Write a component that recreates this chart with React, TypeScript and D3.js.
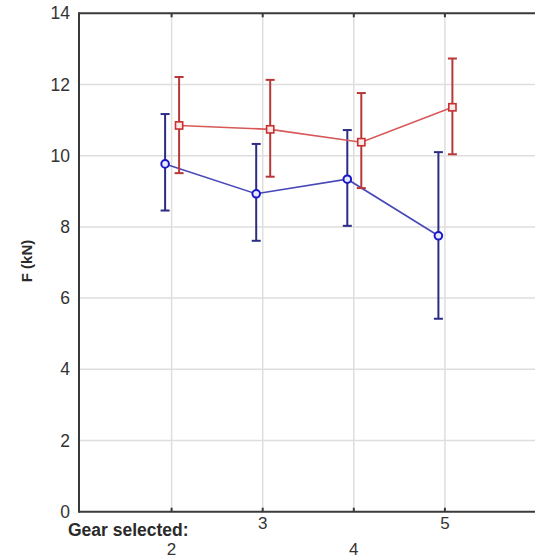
import React from "react";
import * as d3 from "d3";

const gears = [2, 3, 4, 5];
const blueMean = [9.77, 8.93, 9.34, 7.75];
const blueUpper = [11.17, 10.33, 10.72, 10.1];
const blueLower = [8.46, 7.61, 8.03, 5.42];
const redMean = [10.85, 10.74, 10.38, 11.36];
const redUpper = [12.21, 12.13, 11.76, 12.73];
const redLower = [9.51, 9.41, 9.09, 10.04];
const yTicks = [0, 2, 4, 6, 8, 10, 12, 14];
const xLabelsTop = [3, 5];
const xLabelsBottom = [2, 4];

const W = 535;
const H = 558;
const left = 79;
const top = 13.3;
const bottom = 511.7;
const right = 540;

const x = d3.scaleLinear().domain([1, 6]).range([80.5, 536]);
const y = d3.scaleLinear().domain([0, 14]).range([bottom, top]);

type Series = {
  mean: number[];
  upper: number[];
  lower: number[];
  offset: number;
  lineColor: string;
  barColor: string;
  markerColor: string;
  marker: "circle" | "square";
};

const series: Series[] = [
  {
    mean: blueMean,
    upper: blueUpper,
    lower: blueLower,
    offset: -6.5,
    lineColor: "#4848b8",
    barColor: "#2c2c84",
    markerColor: "#1818c8",
    marker: "circle",
  },
  {
    mean: redMean,
    upper: redUpper,
    lower: redLower,
    offset: 7.5,
    lineColor: "#d85858",
    barColor: "#b83838",
    markerColor: "#c83030",
    marker: "square",
  },
];

export default function App() {
  const font = "Arial, 'Liberation Sans', sans-serif";
  return (
    <svg
      width={W}
      height={H}
      style={{ position: "absolute", left: 0, top: 0, background: "#fff" }}
    >
      <rect x={0} y={0} width={W} height={H} fill="#fff" />
      {yTicks
        .filter((t) => t > 0 && t < 14)
        .map((t) => (
          <line
            key={"gy" + t}
            x1={left}
            x2={right}
            y1={y(t)}
            y2={y(t)}
            stroke="#dedede"
            strokeWidth={1.5}
          />
        ))}
      {gears.map((g) => (
        <line
          key={"gx" + g}
          x1={x(g)}
          x2={x(g)}
          y1={top}
          y2={bottom}
          stroke="#dedede"
          strokeWidth={1.5}
        />
      ))}
      <line x1={left} x2={right} y1={top} y2={top} stroke="#3a3a3a" strokeWidth={2} />
      <line x1={left} x2={right} y1={bottom} y2={bottom} stroke="#3a3a3a" strokeWidth={2} />
      <line x1={left} x2={left} y1={top - 1} y2={bottom + 1} stroke="#3a3a3a" strokeWidth={2} />
      {gears.map((g) => (
        <g key={"tk" + g}>
          <line x1={x(g)} x2={x(g)} y1={top} y2={top + 4} stroke="#3a3a3a" strokeWidth={2} />
          <line x1={x(g)} x2={x(g)} y1={bottom} y2={bottom - 4} stroke="#3a3a3a" strokeWidth={2} />
        </g>
      ))}
      {yTicks.map((t) => (
        <text
          key={"yl" + t}
          x={70}
          y={y(t)}
          textAnchor="end"
          dominantBaseline="central"
          fontFamily={font}
          fontSize={17.5}
          fill="#333"
        >
          {t}
        </text>
      ))}
      <text
        x={68}
        y={530}
        dominantBaseline="central"
        fontFamily={font}
        fontSize={17.5}
        fontWeight="bold"
        fill="#2a2a2a"
      >
        Gear selected:
      </text>
      {xLabelsTop.map((g) => (
        <text
          key={"xt" + g}
          x={x(g)}
          y={523}
          textAnchor="middle"
          dominantBaseline="central"
          fontFamily={font}
          fontSize={17}
          fill="#333"
        >
          {g}
        </text>
      ))}
      {xLabelsBottom.map((g) => (
        <text
          key={"xb" + g}
          x={x(g)}
          y={549}
          textAnchor="middle"
          dominantBaseline="central"
          fontFamily={font}
          fontSize={17}
          fill="#333"
        >
          {g}
        </text>
      ))}
      <text
        transform={`translate(26,261) rotate(-90)`}
        textAnchor="middle"
        dominantBaseline="central"
        fontFamily={font}
        fontSize={15}
        fontWeight="bold"
        fill="#2a2a2a"
      >
        F (kN)
      </text>
      {series.map((s, si) => {
        const pts: [number, number][] = gears.map((g, i) => [x(g) + s.offset, y(s.mean[i])]);
        const line = d3.line()(pts) || "";
        return (
          <g key={"s" + si}>
            {gears.map((g, i) => {
              const cx = x(g) + s.offset;
              return (
                <g key={"eb" + i} stroke={s.barColor} strokeWidth={2}>
                  <line x1={cx} x2={cx} y1={y(s.upper[i])} y2={y(s.lower[i])} />
                  <line x1={cx - 4.5} x2={cx + 4.5} y1={y(s.upper[i])} y2={y(s.upper[i])} />
                  <line x1={cx - 4.5} x2={cx + 4.5} y1={y(s.lower[i])} y2={y(s.lower[i])} />
                </g>
              );
            })}
            <path d={line} fill="none" stroke={s.lineColor} strokeWidth={1.6} />
            {pts.map(([px, py], i) =>
              s.marker === "circle" ? (
                <circle
                  key={"m" + i}
                  cx={px}
                  cy={py}
                  r={3.8}
                  fill="#e8e8ff"
                  stroke={s.markerColor}
                  strokeWidth={2}
                />
              ) : (
                <rect
                  key={"m" + i}
                  x={px - 3.6}
                  y={py - 3.6}
                  width={7.2}
                  height={7.2}
                  fill="#fbe8e8"
                  stroke={s.markerColor}
                  strokeWidth={1.6}
                />
              )
            )}
          </g>
        );
      })}
    </svg>
  );
}
